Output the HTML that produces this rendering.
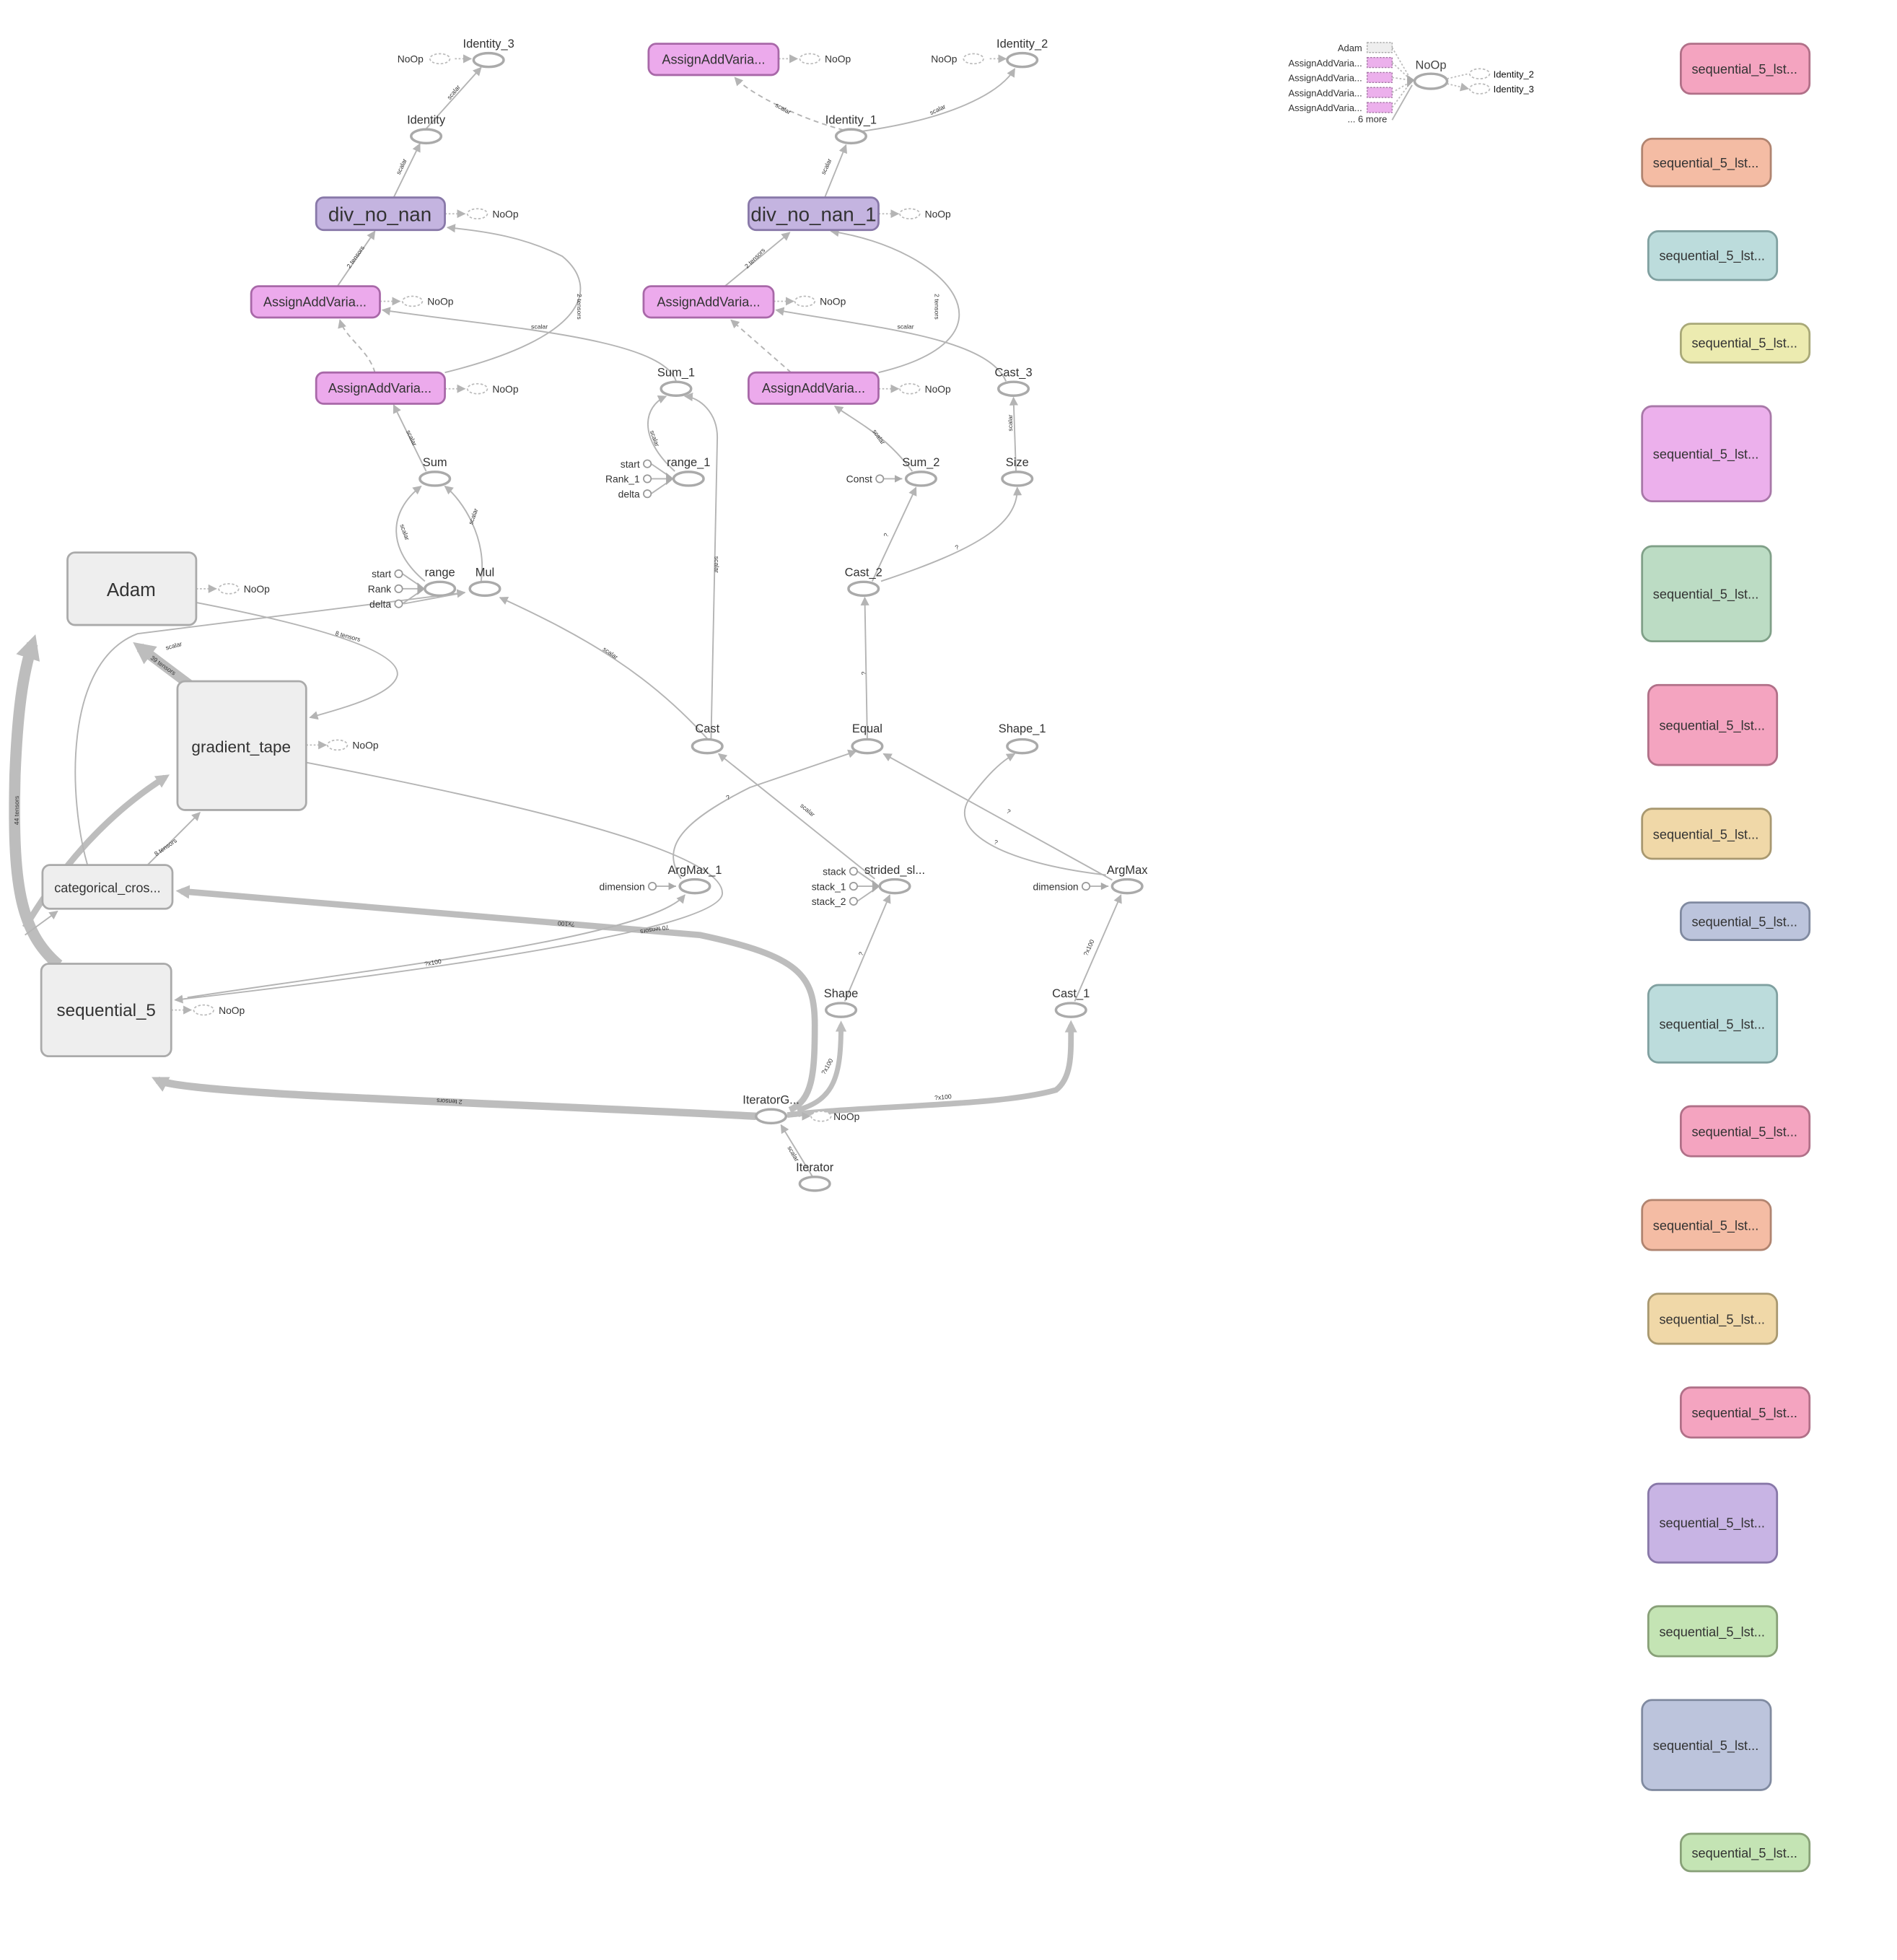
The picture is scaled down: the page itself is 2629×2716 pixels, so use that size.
<!DOCTYPE html>
<html><head><meta charset="utf-8"><style>
html,body{margin:0;padding:0;background:#fff}
svg{display:block}
text{font-family:"Liberation Sans",sans-serif;fill:#333}
.l{font-size:9.5px;text-anchor:middle;fill:#444}
.s{font-size:8px;fill:#111}
.e{font-size:5px;fill:#666}
.el{fill:#fff;stroke:#aaa;stroke-width:2}
.dn{fill:#fff;stroke:#bbb;stroke-width:1;stroke-dasharray:2 1.5}
.ed{fill:none;stroke:#b4b4b4;stroke-width:1.1}
.da{fill:none;stroke:#b4b4b4;stroke-width:1.1;stroke-dasharray:4 3}
.dt{fill:none;stroke:#bbb;stroke-width:1;stroke-dasharray:1.5 1.5}
.th{fill:none;stroke:#bdbdbd}
.ci{fill:#fff;stroke:#999;stroke-width:1}
</style></head><body>
<svg width="2629" height="2716" viewBox="0 0 1518 1568" preserveAspectRatio="none" xmlns="http://www.w3.org/2000/svg">
<defs>
<marker id="a" viewBox="0 0 10 10" refX="9" refY="5" markerWidth="7" markerHeight="7" orient="auto" markerUnits="userSpaceOnUse"><path d="M0,0L10,5L0,10z" fill="#b4b4b4"/></marker>
<marker id="b" viewBox="0 0 10 10" refX="6" refY="5" markerWidth="2.2" markerHeight="2.2" orient="auto"><path d="M0,0L10,5L0,10z" fill="#bdbdbd"/></marker>
</defs>

<!-- right column boxes -->
<g stroke-width="1.6">
<rect x="1345" y="35" width="103" height="40" rx="8" fill="#f4a4c0" stroke="#b07088"/>
<rect x="1314" y="111" width="103" height="38" rx="8" fill="#f4bca4" stroke="#b08470"/>
<rect x="1319" y="185" width="103" height="39" rx="8" fill="#bcdcdc" stroke="#80a0a0"/>
<rect x="1345" y="259" width="103" height="31" rx="8" fill="#ecebb0" stroke="#a8a878"/>
<rect x="1314" y="325" width="103" height="76" rx="8" fill="#ecb0ec" stroke="#a878a8"/>
<rect x="1314" y="437" width="103" height="76" rx="8" fill="#bcdcc4" stroke="#80a088"/>
<rect x="1319" y="548" width="103" height="64" rx="8" fill="#f4a4c0" stroke="#b07088"/>
<rect x="1314" y="647" width="103" height="40" rx="8" fill="#f0d8a8" stroke="#a89870"/>
<rect x="1345" y="722" width="103" height="30" rx="8" fill="#bcc4dc" stroke="#808aa0"/>
<rect x="1319" y="788" width="103" height="62" rx="8" fill="#bcdcdc" stroke="#80a0a0"/>
<rect x="1345" y="885" width="103" height="40" rx="8" fill="#f4a4c0" stroke="#b07088"/>
<rect x="1314" y="960" width="103" height="40" rx="8" fill="#f4bca4" stroke="#b08470"/>
<rect x="1319" y="1035" width="103" height="40" rx="8" fill="#f0d8a8" stroke="#a89870"/>
<rect x="1345" y="1110" width="103" height="40" rx="8" fill="#f4a4c0" stroke="#b07088"/>
<rect x="1319" y="1187" width="103" height="63" rx="8" fill="#c8b4e4" stroke="#8878a8"/>
<rect x="1319" y="1285" width="103" height="40" rx="8" fill="#c4e4b4" stroke="#88a078"/>
<rect x="1314" y="1360" width="103" height="72" rx="8" fill="#bcc4dc" stroke="#808aa0"/>
<rect x="1345" y="1467" width="103" height="30" rx="8" fill="#c4e4b4" stroke="#88a078"/>
</g>
<g class="l" style="font-size:10.5px">
<text x="1396" y="59">sequential_5_lst...</text>
<text x="1365" y="134">sequential_5_lst...</text>
<text x="1370" y="208">sequential_5_lst...</text>
<text x="1396" y="278">sequential_5_lst...</text>
<text x="1365" y="367">sequential_5_lst...</text>
<text x="1365" y="479">sequential_5_lst...</text>
<text x="1370" y="584">sequential_5_lst...</text>
<text x="1365" y="671">sequential_5_lst...</text>
<text x="1396" y="741">sequential_5_lst...</text>
<text x="1370" y="823">sequential_5_lst...</text>
<text x="1396" y="909">sequential_5_lst...</text>
<text x="1365" y="984">sequential_5_lst...</text>
<text x="1370" y="1059">sequential_5_lst...</text>
<text x="1396" y="1134">sequential_5_lst...</text>
<text x="1370" y="1222">sequential_5_lst...</text>
<text x="1370" y="1309">sequential_5_lst...</text>
<text x="1365" y="1400">sequential_5_lst...</text>
<text x="1396" y="1486">sequential_5_lst...</text>
</g>

<!-- top right NoOp cluster -->
<g>
<rect x="1094" y="34" width="20" height="8" fill="#eee" stroke="#aaa" stroke-dasharray="1.5 1" stroke-width="0.8"/>
<rect x="1094" y="46" width="20" height="8" fill="#ecb0ec" stroke="#a878a8" stroke-dasharray="1.5 1" stroke-width="0.8"/>
<rect x="1094" y="58" width="20" height="8" fill="#ecb0ec" stroke="#a878a8" stroke-dasharray="1.5 1" stroke-width="0.8"/>
<rect x="1094" y="70" width="20" height="8" fill="#ecb0ec" stroke="#a878a8" stroke-dasharray="1.5 1" stroke-width="0.8"/>
<rect x="1094" y="82" width="20" height="8" fill="#ecb0ec" stroke="#a878a8" stroke-dasharray="1.5 1" stroke-width="0.8"/>
<path class="dt" d="M1114,38L1128,62M1114,50L1128,63M1114,62L1128,64M1114,74L1128,66M1114,86L1128,67"/>
<path class="ed" d="M1114,96L1130,68"/>
<path d="M1126,60L1132,64L1126,70z" fill="#aaa"/>
<ellipse class="el" cx="1145" cy="65" rx="13" ry="6"/>
<text class="l" x="1145" y="55">NoOp</text>
<path class="dt" d="M1158,63L1175,59M1158,67L1175,71" marker-end="url(#a)"/>
<ellipse class="dn" cx="1184" cy="59" rx="8" ry="4"/><ellipse class="dn" cx="1184" cy="71" rx="8" ry="4"/>
<g class="s" style="text-anchor:end;font-size:7.5px">
<text x="1090" y="41">Adam</text><text x="1090" y="53">AssignAddVaria...</text><text x="1090" y="65">AssignAddVaria...</text><text x="1090" y="77">AssignAddVaria...</text><text x="1090" y="89">AssignAddVaria...</text><text x="1110" y="98">... 6 more</text>
</g>
<text class="s" x="1195" y="62" style="font-size:7.5px">Identity_2</text>
<text class="s" x="1195" y="74" style="font-size:7.5px">Identity_3</text>
</g>

<!-- thick edges -->
<path class="th" stroke-width="6" d="M605,893 C400,882 150,876 126,864" marker-end="url(#b)"/>
<path class="th" stroke-width="5" d="M632,888 C650,880 652,860 652,820 C652,780 640,765 560,748 L145,713" marker-end="url(#b)"/>
<path class="th" stroke-width="4" d="M638,888 C668,880 673,860 673,820" marker-end="url(#b)"/>
<path class="th" stroke-width="4.5" d="M630,892 C700,884 800,885 845,872 C858,862 857,842 857,820" marker-end="url(#b)"/>
<path class="th" stroke-width="9" d="M47,772 C15,745 10,705 12,620 C14,570 18,540 26,515" marker-end="url(#b)"/>
<path class="th" stroke-width="5" d="M20,742 C45,700 80,655 132,622" marker-end="url(#b)"/>
<path class="th" stroke-width="8" d="M152,548 L112,518" marker-end="url(#b)"/>

<!-- thin edges -->
<g class="ed" marker-end="url(#a)">
<path d="M341,103L385,54"/>
<path d="M315,158L336,115"/>
<path d="M270,229L300,185"/>
<path d="M356,298 C470,270 480,230 450,205 C420,190 390,185 358,182"/>
<path d="M341,377L315,324"/>
<path d="M541,305 C530,270 400,262 306,248"/>
<path d="M340,465 C310,440 310,410 337,389"/>
<path d="M385,465 C390,430 370,400 356,389"/>
<path d="M70,692 C55,640 50,530 110,507 L372,474"/>
<path d="M566,591 C520,540 470,510 400,478"/>
<path d="M569,591 C572,480 574,380 574,350 C574,330 560,318 548,317"/>
<path d="M540,377 C510,350 515,325 533,317"/>
<path d="M700,703L575,603"/>
<path d="M650,941L625,900"/>
<path d="M676,801L712,716"/>
<path d="M860,801L897,716"/>
<path d="M890,704L707,603"/>
<path d="M885,700 C800,690 760,665 775,640 C790,620 800,610 812,603"/>
<path d="M545,703 C530,680 540,660 600,630 L685,601"/>
<path d="M694,591L692,478"/>
<path d="M698,465L733,390"/>
<path d="M705,465 C780,440 815,420 814,390"/>
<path d="M813,377L811,318"/>
<path d="M730,377 C710,350 690,340 668,325"/>
<path d="M805,305 C790,270 700,262 621,248"/>
<path d="M703,298 C820,270 760,200 665,185"/>
<path d="M580,229L632,186"/>
<path d="M660,158L677,116"/>
<path d="M690,105 C760,95 800,75 812,55"/>
<path d="M157,482 C250,500 320,520 318,540 C315,555 280,565 248,574"/>
<path d="M118,692L160,650"/>
<path d="M20,748L46,729"/>
<path d="M245,610 C400,640 580,680 578,715 C576,740 400,770 140,800"/>
<path d="M150,798 C300,775 520,750 548,716"/>
</g>
<g class="da" marker-end="url(#a)">
<path d="M300,298 C295,280 276,270 272,256"/>
<path d="M633,298L585,256"/>
<path d="M675,104 C640,95 600,75 588,62"/>
</g>
<!-- dotted to NoOps -->
<g class="dt" marker-end="url(#a)">
<path d="M364,47L377,47"/><path d="M792,47L805,47"/>
<path d="M623,47L638,47"/>
<path d="M356,171L372,171"/><path d="M703,171L719,171"/>
<path d="M304,241L320,241"/><path d="M619,241L635,241"/>
<path d="M356,311L372,311"/><path d="M703,311L719,311"/>
<path d="M157,471L173,471"/><path d="M245,596L261,596"/>
<path d="M137,808L153,808"/><path d="M630,893L648,893"/>
</g>
<g>
<ellipse class="dn" cx="352" cy="47" rx="8" ry="4"/><ellipse class="dn" cx="779" cy="47" rx="8" ry="4"/>
<ellipse class="dn" cx="648" cy="47" rx="8" ry="4"/>
<ellipse class="dn" cx="382" cy="171" rx="8" ry="4"/><ellipse class="dn" cx="728" cy="171" rx="8" ry="4"/>
<ellipse class="dn" cx="330" cy="241" rx="8" ry="4"/><ellipse class="dn" cx="644" cy="241" rx="8" ry="4"/>
<ellipse class="dn" cx="382" cy="311" rx="8" ry="4"/><ellipse class="dn" cx="728" cy="311" rx="8" ry="4"/>
<ellipse class="dn" cx="183" cy="471" rx="8" ry="4"/><ellipse class="dn" cx="270" cy="596" rx="8" ry="4"/>
<ellipse class="dn" cx="163" cy="808" rx="8" ry="4"/><ellipse class="dn" cx="657" cy="893" rx="8" ry="4"/>
</g>
<g class="s">
<text x="318" y="50">NoOp</text><text x="745" y="50">NoOp</text><text x="660" y="50">NoOp</text>
<text x="394" y="174">NoOp</text><text x="740" y="174">NoOp</text>
<text x="342" y="244">NoOp</text><text x="656" y="244">NoOp</text>
<text x="394" y="314">NoOp</text><text x="740" y="314">NoOp</text>
<text x="195" y="474">NoOp</text><text x="282" y="599">NoOp</text>
<text x="175" y="811">NoOp</text><text x="667" y="896">NoOp</text>
</g>

<!-- boxes main -->
<g stroke-width="1.6">
<rect x="253" y="158" width="103" height="26" rx="6" fill="#c4b4e0" stroke="#8878a8"/>
<rect x="599" y="158" width="104" height="26" rx="6" fill="#c4b4e0" stroke="#8878a8"/>
<rect x="519" y="35" width="104" height="25" rx="6" fill="#ecaaec" stroke="#a868a8"/>
<rect x="201" y="229" width="103" height="25" rx="6" fill="#ecaaec" stroke="#a868a8"/>
<rect x="515" y="229" width="104" height="25" rx="6" fill="#ecaaec" stroke="#a868a8"/>
<rect x="253" y="298" width="103" height="25" rx="6" fill="#ecaaec" stroke="#a868a8"/>
<rect x="599" y="298" width="104" height="25" rx="6" fill="#ecaaec" stroke="#a868a8"/>
<rect x="54" y="442" width="103" height="58" rx="6" fill="#eee" stroke="#aaa"/>
<rect x="142" y="545" width="103" height="103" rx="6" fill="#eee" stroke="#aaa"/>
<rect x="34" y="692" width="104" height="35" rx="6" fill="#eee" stroke="#aaa"/>
<rect x="33" y="771" width="104" height="74" rx="6" fill="#eee" stroke="#aaa"/>
</g>
<g class="l">
<text x="304" y="177" style="font-size:16px">div_no_nan</text>
<text x="651" y="177" style="font-size:16px">div_no_nan_1</text>
<text x="571" y="51" style="font-size:10.5px">AssignAddVaria...</text>
<text x="252" y="245" style="font-size:10.5px">AssignAddVaria...</text>
<text x="567" y="245" style="font-size:10.5px">AssignAddVaria...</text>
<text x="304" y="314" style="font-size:10.5px">AssignAddVaria...</text>
<text x="651" y="314" style="font-size:10.5px">AssignAddVaria...</text>
<text x="105" y="477" style="font-size:15px">Adam</text>
<text x="193" y="602" style="font-size:13px">gradient_tape</text>
<text x="86" y="714" style="font-size:10.5px">categorical_cros...</text>
<text x="85" y="813" style="font-size:14px">sequential_5</text>
</g>

<!-- ellipses -->
<g class="el">
<ellipse cx="391" cy="48" rx="12" ry="5.5"/><ellipse cx="341" cy="109" rx="12" ry="5.5"/>
<ellipse cx="681" cy="109" rx="12" ry="5.5"/><ellipse cx="818" cy="48" rx="12" ry="5.5"/>
<ellipse cx="348" cy="383" rx="12" ry="5.5"/><ellipse cx="352" cy="471" rx="12" ry="5.5"/>
<ellipse cx="388" cy="471" rx="12" ry="5.5"/><ellipse cx="541" cy="311" rx="12" ry="5.5"/>
<ellipse cx="551" cy="383" rx="12" ry="5.5"/><ellipse cx="737" cy="383" rx="12" ry="5.5"/>
<ellipse cx="811" cy="311" rx="12" ry="5.5"/><ellipse cx="814" cy="383" rx="12" ry="5.5"/>
<ellipse cx="691" cy="471" rx="12" ry="5.5"/><ellipse cx="694" cy="597" rx="12" ry="5.5"/>
<ellipse cx="566" cy="597" rx="12" ry="5.5"/><ellipse cx="818" cy="597" rx="12" ry="5.5"/>
<ellipse cx="556" cy="709" rx="12" ry="5.5"/><ellipse cx="716" cy="709" rx="12" ry="5.5"/>
<ellipse cx="902" cy="709" rx="12" ry="5.5"/><ellipse cx="673" cy="808" rx="12" ry="5.5"/>
<ellipse cx="857" cy="808" rx="12" ry="5.5"/><ellipse cx="617" cy="893" rx="12" ry="5.5"/>
<ellipse cx="652" cy="947" rx="12" ry="5.5"/>
</g>
<g class="l">
<text x="391" y="38">Identity_3</text><text x="341" y="99">Identity</text>
<text x="681" y="99">Identity_1</text><text x="818" y="38">Identity_2</text>
<text x="348" y="373">Sum</text><text x="352" y="461">range</text><text x="388" y="461">Mul</text>
<text x="541" y="301">Sum_1</text><text x="551" y="373">range_1</text><text x="737" y="373">Sum_2</text>
<text x="811" y="301">Cast_3</text><text x="814" y="373">Size</text><text x="691" y="461">Cast_2</text>
<text x="694" y="586">Equal</text><text x="566" y="586">Cast</text><text x="818" y="586">Shape_1</text>
<text x="556" y="699">ArgMax_1</text><text x="716" y="699">strided_sl...</text><text x="902" y="699">ArgMax</text>
<text x="673" y="798">Shape</text><text x="857" y="798">Cast_1</text><text x="617" y="883">IteratorG...</text>
<text x="652" y="937">Iterator</text>
</g>

<!-- small constant inputs -->
<g class="ed">
<path d="M322,459L338,470M322,471L338,471M322,483L338,472M323,483L372,474"/>
<path d="M521,371L537,382M521,383L537,383M521,395L537,384"/>
<path d="M707,383L722,383"/>
<path d="M525,709L541,709M872,709L887,709"/>
<path d="M686,697L702,708M686,709L702,709M686,721L702,710"/>
</g>
<path d="M334,466L340,471L334,476z" fill="#aaa"/><path d="M533,378L539,383L533,388z" fill="#aaa"/>
<path d="M698,704L704,709L698,714z" fill="#aaa"/>
<path d="M716,380L722,383L716,386z M535,706L541,709L535,712z M881,706L887,709L881,712z" fill="#aaa"/>
<g class="ci">
<circle cx="319" cy="459" r="3"/><circle cx="319" cy="471" r="3"/><circle cx="319" cy="483" r="3"/>
<circle cx="518" cy="371" r="3"/><circle cx="518" cy="383" r="3"/><circle cx="518" cy="395" r="3"/>
<circle cx="704" cy="383" r="3"/><circle cx="522" cy="709" r="3"/><circle cx="869" cy="709" r="3"/>
<circle cx="683" cy="697" r="3"/><circle cx="683" cy="709" r="3"/><circle cx="683" cy="721" r="3"/>
</g>
<g class="s" style="text-anchor:end">
<text x="313" y="462">start</text><text x="313" y="474">Rank</text><text x="313" y="486">delta</text>
<text x="512" y="374">start</text><text x="512" y="386">Rank_1</text><text x="512" y="398">delta</text>
<text x="698" y="386">Const</text><text x="516" y="712">dimension</text><text x="863" y="712">dimension</text>
<text x="677" y="700">stack</text><text x="677" y="712">stack_1</text><text x="677" y="724">stack_2</text>
</g>

<!-- edge labels -->
<g class="e">
<text x="360" y="80" transform="rotate(-50 360 80)">scalar</text>
<text x="320" y="140" transform="rotate(-65 320 140)">scalar</text>
<text x="280" y="215" transform="rotate(-55 280 215)">2 tensors</text>
<text x="462" y="235" transform="rotate(90 462 235)">2 tensors</text>
<text x="425" y="263">scalar</text>
<text x="325" y="345" transform="rotate(65 325 345)">scalar</text>
<text x="660" y="140" transform="rotate(-65 660 140)">scalar</text>
<text x="745" y="92" transform="rotate(-25 745 92)">scalar</text>
<text x="620" y="85" transform="rotate(30 620 85)">scalar</text>
<text x="598" y="215" transform="rotate(-45 598 215)">2 tensors</text>
<text x="748" y="235" transform="rotate(90 748 235)">2 tensors</text>
<text x="718" y="263">scalar</text>
<text x="698" y="345" transform="rotate(55 698 345)">scalar</text>
<text x="810" y="345" transform="rotate(-90 810 345)">scalar</text>
<text x="572" y="445" transform="rotate(90 572 445)">scalar</text>
<text x="520" y="345" transform="rotate(70 520 345)">scalar</text>
<text x="320" y="420" transform="rotate(70 320 420)">scalar</text>
<text x="378" y="420" transform="rotate(-70 378 420)">scalar</text>
<text x="482" y="520" transform="rotate(35 482 520)">scalar</text>
<text x="640" y="645" transform="rotate(40 640 645)">scalar</text>
<text x="268" y="508" transform="rotate(15 268 508)">8 tensors</text>
<text x="133" y="520" transform="rotate(-15 133 520)">scalar</text>
<text x="120" y="527" transform="rotate(35 120 527)">39 tensors</text>
<text x="15" y="660" transform="rotate(-90 15 660)">44 tensors</text>
<text x="125" y="685" transform="rotate(-35 125 685)">8 tensors</text>
<text x="340" y="773" transform="rotate(-10 340 773)">?x100</text>
<text x="535" y="740" transform="rotate(170 535 740)">70 tensors</text>
<text x="460" y="738" transform="rotate(185 460 738)">?x100</text>
<text x="370" y="880" transform="rotate(183 370 880)">2 tensors</text>
<text x="660" y="860" transform="rotate(-60 660 860)">?x100</text>
<text x="748" y="880" transform="rotate(-5 748 880)">?x100</text>
<text x="870" y="765" transform="rotate(-65 870 765)">?x100</text>
<text x="690" y="765" transform="rotate(-65 690 765)">?</text>
<text x="795" y="675" transform="rotate(20 795 675)">?</text>
<text x="805" y="650" transform="rotate(30 805 650)">?</text>
<text x="582" y="640" transform="rotate(-25 582 640)">?</text>
<text x="693" y="540" transform="rotate(-90 693 540)">?</text>
<text x="710" y="430" transform="rotate(-65 710 430)">?</text>
<text x="765" y="440" transform="rotate(-20 765 440)">?</text>
<text x="630" y="918" transform="rotate(60 630 918)">scalar</text>
</g>
</svg>
</body></html>
